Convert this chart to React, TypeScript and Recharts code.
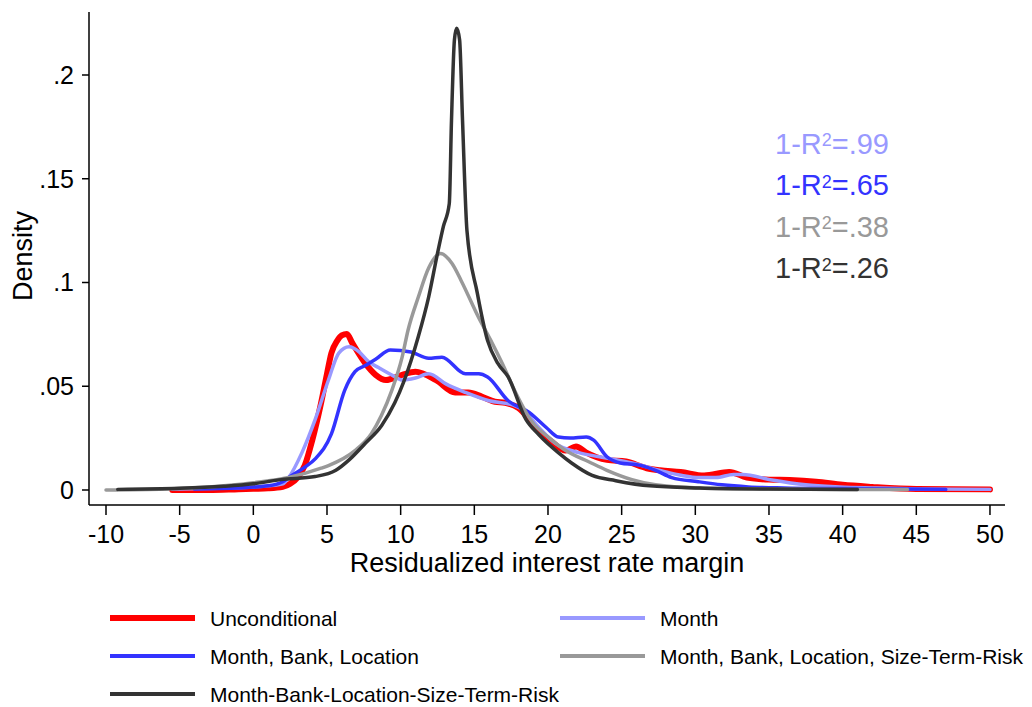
import React from 'react';
import { LineChart, Line, XAxis, YAxis } from 'recharts';

const xTicks = [-10, -5, 0, 5, 10, 15, 20, 25, 30, 35, 40, 45, 50];
const yTicks = [0, 0.05, 0.1, 0.15, 0.2];

// Unconditional (red)
const uncondX = [-5.5, -3, -1, 0, 1, 2, 2.5, 3, 3.5, 4, 4.6, 5, 5.3, 5.7, 6.0, 6.35, 6.7, 7.6, 8.3, 9.0, 10.1, 11, 12.4, 13.7, 14.6, 15.5, 16.4, 17.1, 18, 19.2, 20.3, 21.2, 21.9, 22.6, 24, 25.3, 26.7, 27.6, 29, 30.6, 32.3, 33.5, 35, 36.4, 38.2, 40, 42, 45, 50];
const uncondY = [0, 0, 0.0004, 0.0006, 0.0008, 0.0015, 0.003, 0.006, 0.012, 0.024, 0.042, 0.056, 0.066, 0.072, 0.0745, 0.0752, 0.071, 0.061, 0.0555, 0.053, 0.0555, 0.057, 0.053, 0.047, 0.047, 0.045, 0.0425, 0.042, 0.0395, 0.03, 0.023, 0.019, 0.021, 0.018, 0.0145, 0.0137, 0.0105, 0.0095, 0.0087, 0.007, 0.0087, 0.006, 0.005, 0.0048, 0.004, 0.0025, 0.0015, 0.0005, 0.0003];

// Month (light purple)
const monthX = [-5.5, -2, 0, 1, 2, 2.4, 3.3, 4.2, 5.1, 5.8, 6.5, 7.2, 7.8, 8.5, 9.5, 10.1, 11, 11.9, 13.1, 14.4, 16, 17.6, 18.3, 19.4, 20.5, 22.1, 23.5, 25.7, 28, 29.1, 30.3, 31.4, 32.6, 33.2, 35.2, 37.5, 39.8, 42, 45, 50];
const monthY = [0.0005, 0.001, 0.0015, 0.002, 0.003, 0.006, 0.018, 0.034, 0.053, 0.066, 0.069, 0.0665, 0.062, 0.059, 0.055, 0.053, 0.054, 0.056, 0.051, 0.047, 0.043, 0.041, 0.0385, 0.03, 0.0225, 0.018, 0.016, 0.013, 0.0087, 0.007, 0.006, 0.006, 0.0075, 0.0075, 0.0048, 0.0025, 0.0015, 0.001, 0.0005, 0.0003];

// Month, Bank, Location (blue)
const mblX = [-4, -1, 1, 2, 2.4, 3.5, 4.2, 5.3, 6.2, 6.9, 7.6, 8.3, 9.3, 10.7, 11.9, 12.8, 14.4, 15.3, 15.9, 17.3, 18.7, 19.9, 20.7, 21.5, 22.6, 23.1, 24, 24.9, 26.2, 27.3, 28.4, 30.2, 31.8, 33.6, 36, 40, 47];
const mblY = [0.0005, 0.001, 0.002, 0.004, 0.006, 0.011, 0.015, 0.027, 0.048, 0.057, 0.06, 0.063, 0.0675, 0.0665, 0.0635, 0.064, 0.056, 0.056, 0.0545, 0.043, 0.0375, 0.03, 0.0255, 0.025, 0.0255, 0.024, 0.016, 0.013, 0.012, 0.0095, 0.006, 0.004, 0.0025, 0.0015, 0.001, 0.0007, 0.0003];

// Month, Bank, Location, Size-Term-Risk (gray)
const mblsX = [-10, -6, -3, 0, 2.4, 4.6, 5.1, 6.9, 8, 8.7, 9.4, 10.1, 10.5, 11.2, 11.9, 12.7, 13.5, 14.1, 15.3, 16.2, 16.9, 17.8, 18.9, 20.1, 21.2, 22.8, 24, 25.7, 27.3, 30.2, 35, 40, 44.4];
const mblsY = [0, 0.0005, 0.0015, 0.0035, 0.006, 0.0105, 0.0118, 0.019, 0.027, 0.036, 0.048, 0.064, 0.077, 0.093, 0.107, 0.114, 0.109, 0.101, 0.083, 0.071, 0.061, 0.047, 0.033, 0.025, 0.019, 0.0135, 0.0095, 0.005, 0.0025, 0.001, 0.0005, 0.0003, 0.0002];

// Month-Bank-Location-Size-Term-Risk (dark)
const fullX = [-9.2, -5, -2, 0, 1.9, 4.2, 5.6, 6.5, 7.6, 8.7, 9.6, 10.2, 11.2, 11.9, 12.5, 12.9, 13.3, 13.45, 13.65, 13.8, 14.0, 14.2, 14.5, 15.2, 15.9, 16.6, 17.3, 18.5, 19.4, 20.7, 21.6, 23, 24.6, 26.9, 30.3, 35, 41];
const fullY = [0.0003, 0.0008, 0.0018, 0.003, 0.005, 0.0065, 0.0095, 0.0145, 0.0225, 0.031, 0.042, 0.052, 0.074, 0.093, 0.114, 0.127, 0.138, 0.178, 0.217, 0.2225, 0.217, 0.178, 0.125, 0.095, 0.072, 0.061, 0.0545, 0.034, 0.0265, 0.018, 0.013, 0.007, 0.0045, 0.002, 0.001, 0.0005, 0.0003];

const r2Labels = ['.99', '.65', '.38', '.26'];

const toPoints = (xs: number[], ys: number[]) => xs.map((x, i) => ({ x, y: ys[i] }));

const series = [
  { key: 'uncond', name: 'Unconditional', color: '#ff0000', width: 6, data: toPoints(uncondX, uncondY) },
  { key: 'month', name: 'Month', color: '#9999ff', width: 3.5, data: toPoints(monthX, monthY) },
  { key: 'mbl', name: 'Month, Bank, Location', color: '#3333ff', width: 3.5, data: toPoints(mblX, mblY) },
  { key: 'mbls', name: 'Month, Bank, Location, Size-Term-Risk', color: '#999999', width: 3.5, data: toPoints(mblsX, mblsY) },
  { key: 'full', name: 'Month-Bank-Location-Size-Term-Risk', color: '#333333', width: 3.5, data: toPoints(fullX, fullY) },
];

const annColors = ['#9999ff', '#3333ff', '#999999', '#333333'];
const annCenters = [144, 185.5, 227, 268.5];

const legendLayout = [
  { s: 0, left: 110, cy: 618 },
  { s: 1, left: 560, cy: 618 },
  { s: 2, left: 110, cy: 656 },
  { s: 3, left: 560, cy: 656 },
  { s: 4, left: 110, cy: 694 },
];

const fmtY = (v: number) => (v === 0 ? '0' : String(v).replace(/^0/, ''));

const YLabel = () => (
  <text transform="translate(32,256) rotate(-90)" textAnchor="middle" fontSize={27} fill="#000">
    Density
  </text>
);

const FONT = '"Liberation Sans", Arial, Helvetica, sans-serif';
const ANN_FS = 29;

export default function App() {
  return (
    <div style={{ position: 'absolute', left: 0, top: 0, width: 1032, height: 707, fontFamily: FONT, background: '#fff' }}>
      <LineChart width={1032} height={707} margin={{ top: 12, right: 27, bottom: 0, left: 0 }}>
        <XAxis
          type="number"
          dataKey="x"
          domain={[-11.154, 51.02]}
          ticks={xTicks}
          allowDataOverflow
          height={202}
          tickSize={10}
          tickMargin={10}
          stroke="#000"
          axisLine={{ stroke: '#000', strokeWidth: 1.5 }}
          tickLine={{ stroke: '#000', strokeWidth: 1.5 }}
          tick={{ fontSize: 25, fill: '#000' }}
          interval={0}
          label={{ value: 'Residualized interest rate margin', position: 'insideTop', offset: 48, fontSize: 27, fill: '#000' }}
        />
        <YAxis
          type="number"
          domain={[-0.00723, 0.23036]}
          ticks={yTicks}
          allowDataOverflow
          width={89}
          tickSize={7}
          tickMargin={8}
          stroke="#000"
          axisLine={{ stroke: '#000', strokeWidth: 1.5 }}
          tickLine={{ stroke: '#000', strokeWidth: 1.5 }}
          tick={{ fontSize: 25, fill: '#000' }}
          tickFormatter={fmtY}
          interval={0}
          label={<YLabel />}
        />
        {series.map((s) => (
          <Line
            key={s.key}
            data={s.data}
            dataKey="y"
            type="monotone"
            stroke={s.color}
            strokeWidth={s.width}
            dot={false}
            activeDot={false}
            isAnimationActive={false}
            strokeLinejoin="round"
            strokeLinecap="round"
          />
        ))}
      </LineChart>

      {r2Labels.map((v, i) => (
        <div
          key={v}
          style={{
            position: 'absolute',
            left: 775,
            top: annCenters[i] - 0.49 * ANN_FS,
            fontSize: ANN_FS,
            lineHeight: 1,
            color: annColors[i],
            whiteSpace: 'nowrap',
          }}
        >
          1-R<span style={{ fontSize: 18, position: 'relative', top: -7.5 }}>2</span>={v}
        </div>
      ))}

      {legendLayout.map((l) => {
        const s = series[l.s];
        const h = s.width;
        return (
          <React.Fragment key={s.key}>
            <div style={{ position: 'absolute', left: l.left, top: l.cy - h / 2, width: 85, height: h, background: s.color }} />
            <div
              style={{
                position: 'absolute',
                left: l.left + 100,
                top: l.cy - 0.49 * 21,
                fontSize: 21,
                lineHeight: 1,
                color: '#000',
                whiteSpace: 'nowrap',
              }}
            >
              {s.name}
            </div>
          </React.Fragment>
        );
      })}
    </div>
  );
}
